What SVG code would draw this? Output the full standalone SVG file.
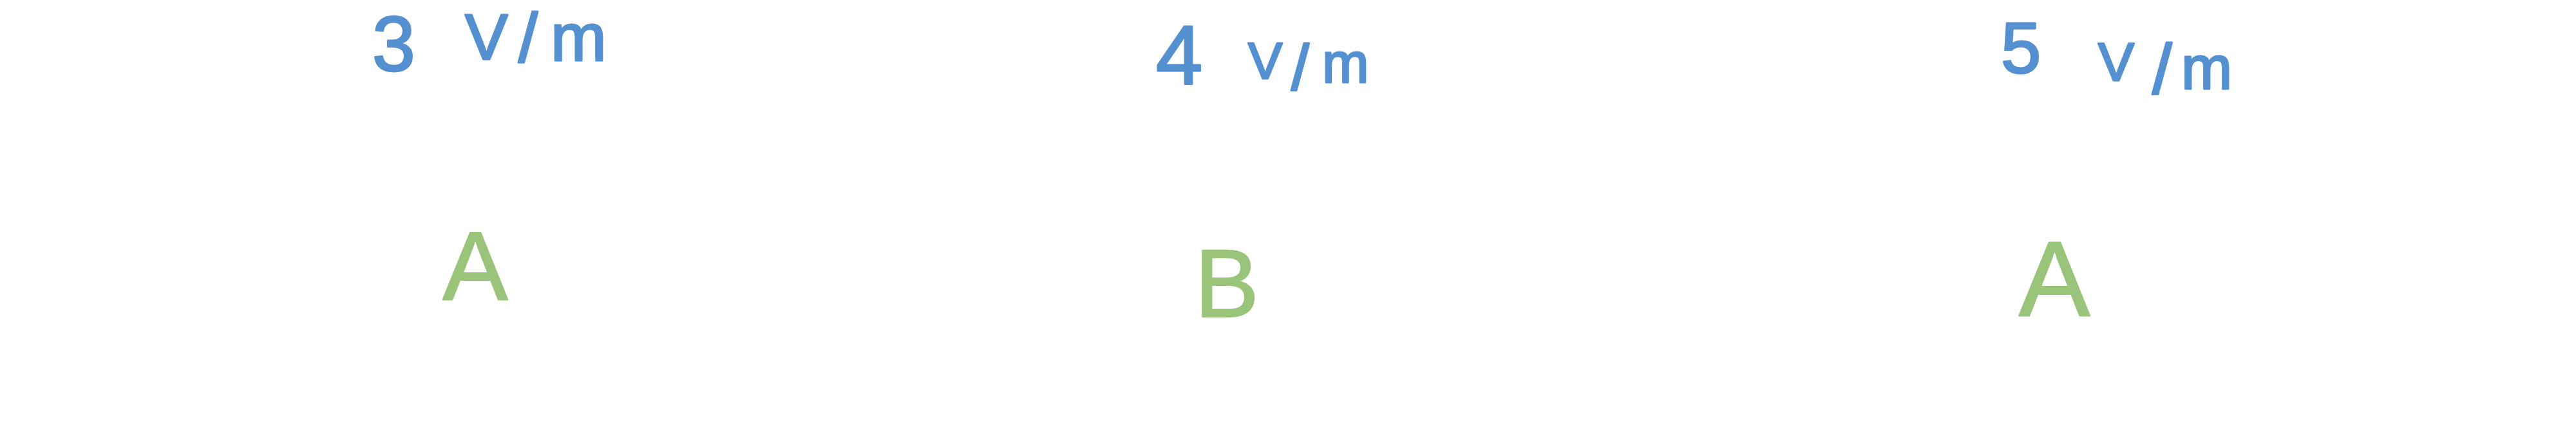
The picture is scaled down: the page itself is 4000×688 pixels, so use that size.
<svg xmlns="http://www.w3.org/2000/svg" width="4000" height="688" viewBox="0 0 4000 688">
<style>
  .bg { fill: #ffffff; }
  .blue { font-family: "Liberation Sans", "DejaVu Sans", sans-serif; fill: #5590D0; stroke: #5590D0; stroke-width: 3; stroke-linejoin: round; }
  .green { font-family: "Liberation Sans", "DejaVu Sans", sans-serif; fill: #99C47A; stroke: #99C47A; stroke-width: 2; stroke-linejoin: round; text-anchor: middle; }
</style>
<rect class="bg" x="0" y="0" width="4000" height="688"/>
<g id="connectors"></g>
<g id="label-3vm">
  <text class="blue"><tspan x="578" y="110" font-size="120">3 </tspan><tspan x="722" y="92" font-size="100">V</tspan><tspan x="805" y="96" font-size="108">/</tspan><tspan x="855" y="94" font-size="104">m</tspan></text>
</g>
<g id="label-4vm">
  <text class="blue"><tspan x="1795" y="130" font-size="130">4 </tspan><tspan x="1938" y="122" font-size="80">V</tspan><tspan x="2005" y="140" font-size="100">/</tspan><tspan x="2053" y="128" font-size="87">m</tspan></text>
</g>
<g id="label-5vm">
  <text class="blue"><tspan x="3107" y="113" font-size="112">5 </tspan><tspan x="3258" y="125" font-size="84">V</tspan><tspan x="3342" y="145" font-size="110">/</tspan><tspan x="3387" y="138" font-size="95">m</tspan></text>
</g>
<g id="node-A1">
  <text class="green" x="738" y="466" font-size="152">A</text>
</g>
<g id="node-B">
  <text class="green" x="1905" y="492" font-size="150">B</text>
</g>
<g id="node-A2">
  <text class="green" x="3190" y="490" font-size="166">A</text>
</g>
</svg>
